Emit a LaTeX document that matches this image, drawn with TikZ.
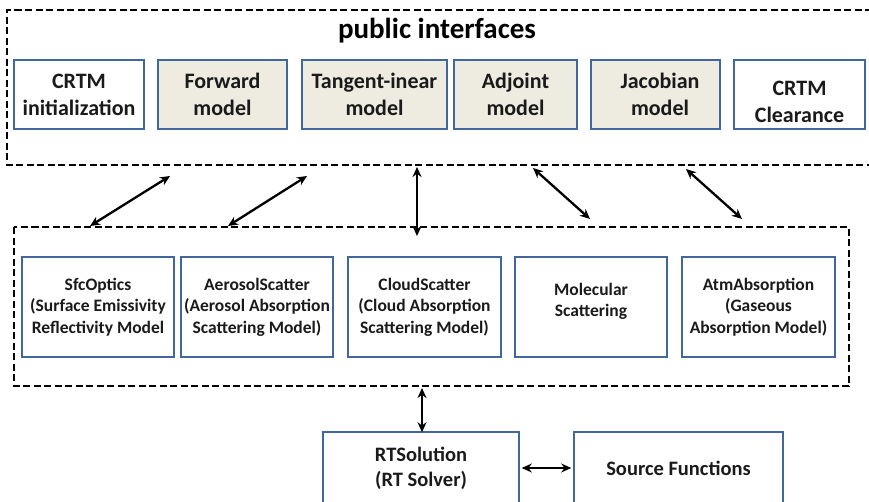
\documentclass[tikz,border=0pt]{standalone}
\usepackage{fontspec}
\setmainfont{Carlito}
\usetikzlibrary{arrows.meta}
\definecolor{boxblue}{HTML}{41679C}
\definecolor{panelfill}{HTML}{EEECE1}
\definecolor{inktext}{HTML}{1A1A1A}

\begin{document}
\begin{tikzpicture}[x=1pt,y=-1pt,
  modbox/.style={draw=boxblue,line width=2.6pt,inner sep=0pt,align=center,text=inktext},
  topbox/.style={modbox,minimum height=69pt,font=\bfseries\fontsize{22}{27}\selectfont},
  shaded/.style={fill=panelfill},
  lowbox/.style={modbox,minimum height=100pt,font=\bfseries\fontsize{17.5}{21.5}\selectfont},
  solverbox/.style={modbox,minimum height=72pt,font=\bfseries\fontsize{20.5}{25}\selectfont},
  group/.style={line width=2.5pt,dash pattern=on 7pt off 3.5pt},
  link/.style={line width=2.3pt,{Stealth[length=10pt,width=9pt]}-{Stealth[length=10pt,width=9pt]}}]

\useasboundingbox (0,0) rectangle (869,501);
\clip (0,0) rectangle (869,501);

% public interface group
\draw[group] (872,10) -- (7,10) -- (7,165) -- (872,165);
\node[font=\bfseries\fontsize{29}{34}\selectfont] (title) at (437,31) {public interfaces};

\node[topbox,minimum width=130pt] (init) at (79,94.5) {CRTM\\initialization};
\node[topbox,shaded,minimum width=129pt] (fwd) at (222.5,94.5) {Forward\\model};
\node[topbox,shaded,minimum width=145pt] (tl) at (374.5,94.5) {Tangent-inear\\model};
\node[topbox,shaded,minimum width=123pt] (adj) at (515.5,94.5) {Adjoint\\model};
\node[topbox,shaded,minimum width=129pt] (jac) at (655.5,94.5) {\hspace*{9pt}Jacobian\\\hspace*{9pt}model};
\node[topbox,minimum width=131pt] (clr) at (799.5,94.5) {\rule{0pt}{30pt}CRTM\\Clearance};

% optics modules group
\draw[group] (14,227) rectangle (849,386);

\node[lowbox,minimum width=152pt] (sfc) at (98,307) {SfcOptics\\(Surface Emissivity\\Reflectivity Model};
\node[lowbox,minimum width=152pt] (aer) at (257,307) {AerosolScatter\\(Aerosol Absorption\\Scattering Model)};
\node[lowbox,minimum width=153pt] (cld) at (424.5,307) {CloudScatter\\(Cloud Absorption\\Scattering Model)};
\node[lowbox,minimum width=152pt] (mol) at (591,307) {Molecular\\Scattering\rule[-14pt]{0pt}{0pt}};
\node[lowbox,minimum width=153pt] (atm) at (758.5,307) {AtmAbsorption\\(Gaseous\\Absorption Model)};

% solver
\node[solverbox,minimum width=196pt] (rts) at (421,468) {RTSolution\\(RT Solver)};
\node[solverbox,minimum width=209pt] (src) at (678.5,468) {Source Functions};

% link end points on the group borders
\coordinate (u1) at (170,176); \coordinate (l1) at (90,226);
\coordinate (u2) at (307,176); \coordinate (l2) at (228,226);
\coordinate (u3) at (417,167); \coordinate (l3) at (417,236);
\coordinate (u4) at (533,168); \coordinate (l4) at (590,219);
\coordinate (u5) at (686,169); \coordinate (l5) at (742,219);
\coordinate (g6) at (422,388);

\draw[link] (u1) -- (l1);
\draw[link] (u2) -- (l2);
\draw[link] (u3) -- (l3);
\draw[link] (u4) -- (l4);
\draw[link] (u5) -- (l5);
\draw[link] (g6) -- ([yshift=-1.5pt]g6 |- rts.north);
\draw[link] ([xshift=1.5pt]rts.east) -- ([xshift=-1.5pt]src.west);

\end{tikzpicture}
\end{document}
